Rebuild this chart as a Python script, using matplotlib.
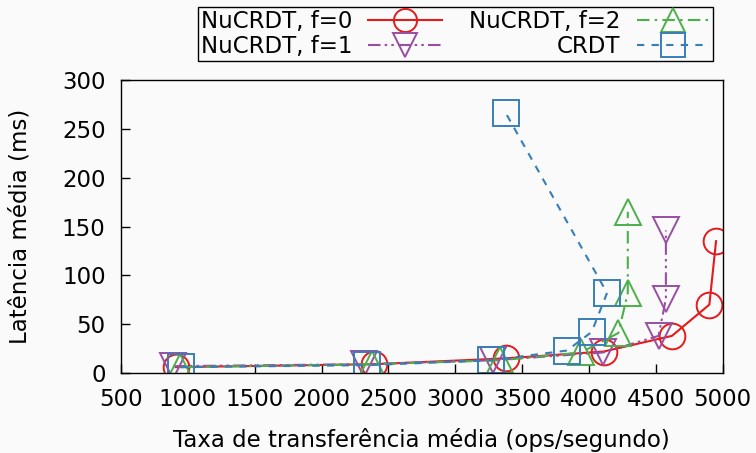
import matplotlib
matplotlib.use("Agg")
import matplotlib.pyplot as plt

# throughput (ops/s) and mean latency (ms)
x_f0 = [910, 2390, 3380, 4110, 4620, 4900, 4950]
y_f0 = [6, 9, 15, 22, 38, 70, 135]

x_f1 = [890, 2315, 3280, 4105, 4520, 4575, 4575]
y_f1 = [7, 9, 13, 21, 38, 76, 146]

x_f2 = [945, 2375, 3335, 3940, 4220, 4290, 4290]
y_f2 = [6, 9, 13, 21, 41, 82, 165]

x_crdt = [950, 2340, 3265, 3835, 4020, 4135, 3378]
y_crdt = [6, 8, 13, 23, 42, 82, 266]

plt.rcParams['font.family'] = ['DejaVu Sans']
plt.rcParams['font.size'] = 16.5

fig = plt.figure(figsize=(7.56, 4.53), dpi=100, facecolor='#fafafa')
ax = fig.add_axes([0.160, 0.1766, 0.796, 0.6468])
ax.set_facecolor('#fafafa')

ms = 18.5
common = dict(markerfacecolor='none', markersize=ms, markeredgewidth=1.4, linewidth=1.5)

l0, = ax.plot(x_f0, y_f0, color='#e41a1c', linestyle='-', marker='o',
              label='NuCRDT, f=0', **common)
l1, = ax.plot(x_f1, y_f1, color='#984ea3', linestyle=(0, (6, 2, 1.2, 2, 1.2, 2)), marker='v',
              label='NuCRDT, f=1', **common)
l2, = ax.plot(x_f2, y_f2, color='#4daf4a', linestyle=(0, (6, 2.5, 1.2, 2.5)), marker='^',
              label='NuCRDT, f=2', **common)
l3, = ax.plot(x_crdt, y_crdt, color='#377eb8', linestyle=(0, (3.5, 3.5)), marker='s',
              label='CRDT', **common)

ax.set_xlim(500, 5000)
ax.set_ylim(0, 300)
ax.set_xticks(range(500, 5001, 500))
ax.set_yticks(range(0, 301, 50))
ax.tick_params(axis='y', direction='in', length=6.5, width=1, right=False, pad=11)
ax.tick_params(axis='x', direction='in', length=6.5, width=1, top=False, pad=11)
for s in ax.spines.values():
    s.set_linewidth(1)

ax.set_xlabel("Taxa de transferência média (ops/segundo)", labelpad=12)
ax.set_ylabel("Latência média (ms)", labelpad=22)

leg = fig.legend(handles=[l0, l1, l2, l3], ncol=2, markerfirst=False,
                 loc='upper center', bbox_to_anchor=(0.6025, 0.9845),
                 fancybox=False, edgecolor='black', framealpha=1,
                 facecolor='#fafafa', handlelength=3.2, handletextpad=0.7,
                 columnspacing=1.2, borderpad=0.12, labelspacing=0.1,
                 borderaxespad=0, markerscale=0.9)
leg.get_frame().set_linewidth(1)

fig.savefig("out.png", dpi=100, facecolor=fig.get_facecolor())
